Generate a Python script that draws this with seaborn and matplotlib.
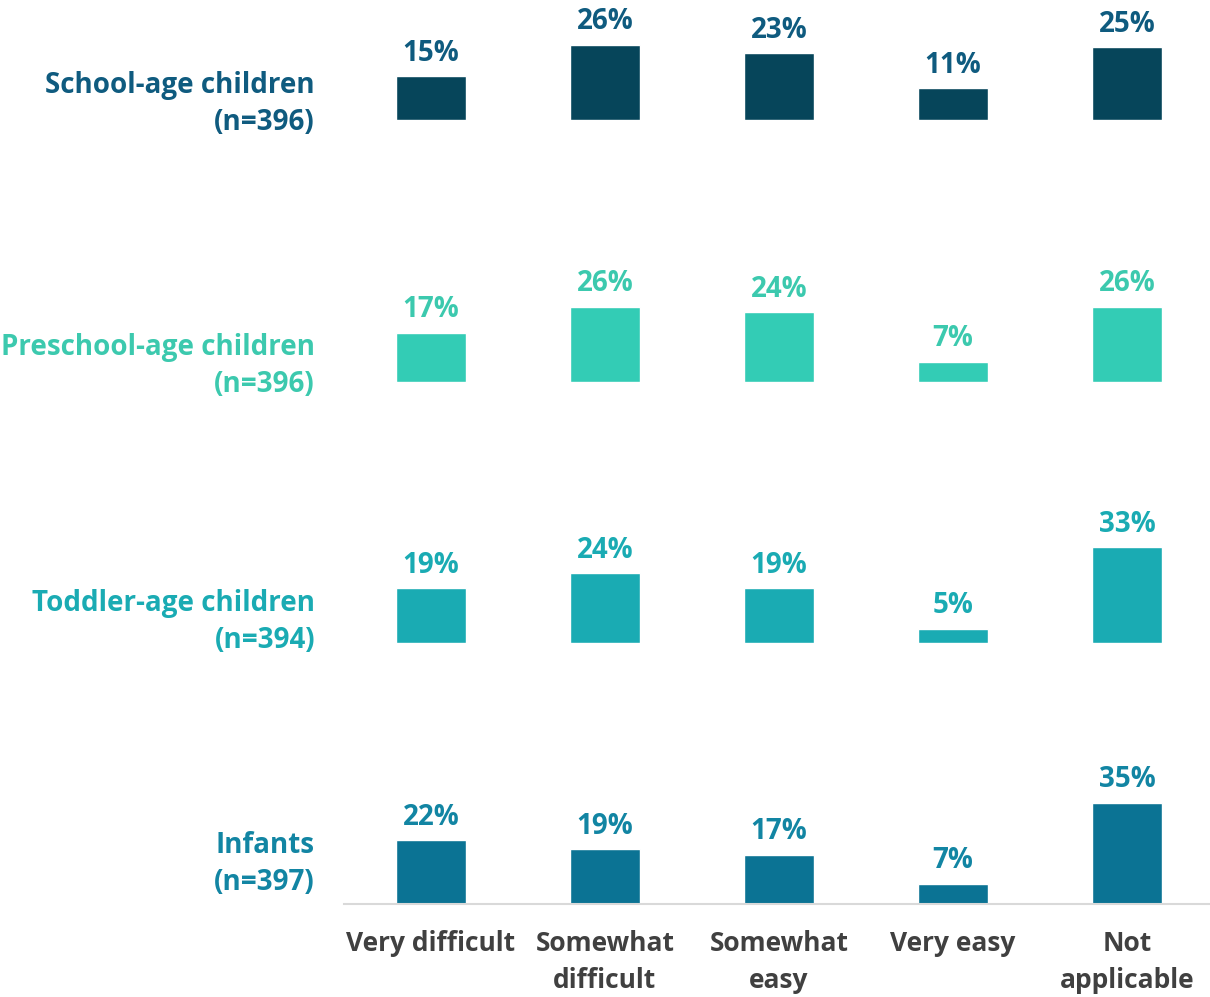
import pandas as pd
import matplotlib.pyplot as plt
import seaborn as sns

# categories and values per group
categories = ['Very difficult', 'Somewhat\ndifficult', 'Somewhat\neasy', 'Very easy', 'Not\napplicable']
groups = ['School-age children\n(n=396)', 'Preschool-age children\n(n=396)',
          'Toddler-age children\n(n=394)', 'Infants\n(n=397)']
school_age = [15, 26, 23, 11, 25]
preschool_age = [17, 26, 24, 7, 26]
toddler_age = [19, 24, 19, 5, 33]
infants = [22, 19, 17, 7, 35]

bar_colors = ['#06455A', '#33CCB5', '#1AABB3', '#0B7394']
text_colors = ['#0F5B7F', '#3CC9AE', '#1AABB3', '#1285A3']

sns.set_theme(style='white')
plt.rcParams['font.family'] = ['Open Sans', 'DejaVu Sans']
plt.rcParams['font.weight'] = 'bold'

W, H = 1210, 997
fig = plt.figure(figsize=(W / 100, H / 100), dpi=100)

baselines = [120, 382, 643, 904]
label_y = [104, 366, 622, 864]
ax_h = 240
ymax = ax_h / 2.9

for i, (vals, grp) in enumerate(zip([school_age, preschool_age, toddler_age, infants], groups)):
    df = pd.DataFrame({'category': categories, 'pct': vals})
    ax = fig.add_axes([344 / W, (H - baselines[i]) / H, 870 / W, ax_h / H])
    sns.barplot(data=df, x='category', y='pct', color=bar_colors[i], width=0.4,
                saturation=1, ax=ax)
    ax.set_xlim(-0.5, 4.5)
    ax.set_ylim(0, ymax)
    ax.set_xlabel('')
    ax.set_ylabel('')
    ax.set_yticks([])
    for j, v in enumerate(vals):
        ax.annotate(f'{v}%', (j, v), xytext=(0, 6), textcoords='offset points',
                    ha='center', va='bottom', fontsize=20, fontweight='bold',
                    color=text_colors[i])
    sns.despine(ax=ax, left=True, bottom=(i < 3))
    if i < 3:
        ax.set_xticks([])
    else:
        ax.spines['bottom'].set_color('#D9D9D9')
        ax.spines['bottom'].set_linewidth(1.5)
        ax.tick_params(axis='x', length=0, pad=19)
        for lbl in ax.get_xticklabels():
            lbl.set_fontsize(19)
            lbl.set_fontweight('bold')
            lbl.set_color('#404040')
            lbl.set_verticalalignment('top')
            lbl.set_linespacing(1.45)
    fig.text(315 / W, 1 - label_y[i] / H, grp, ha='right', va='center',
             fontsize=20, fontweight='bold', color=text_colors[i], linespacing=1.4)

fig.savefig('out.png', dpi=100)
